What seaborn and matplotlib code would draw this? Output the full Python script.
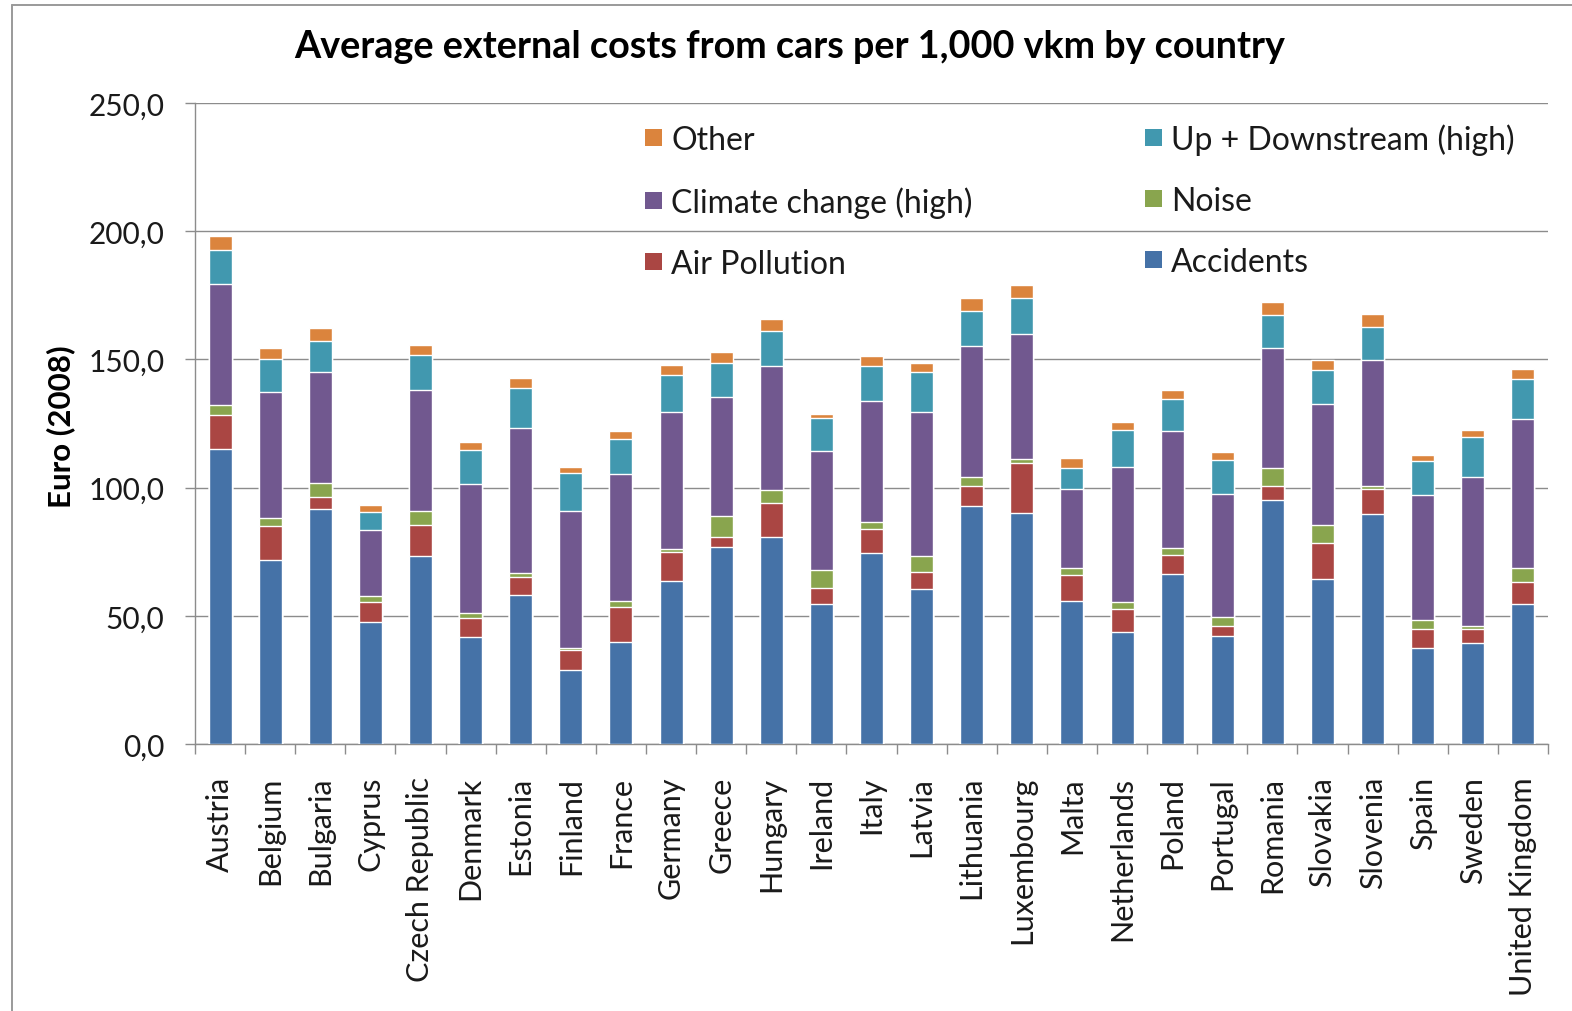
import numpy as np
import pandas as pd
import matplotlib
matplotlib.use("Agg")
import matplotlib.pyplot as plt
from matplotlib.patches import Patch
from matplotlib.lines import Line2D
import seaborn as sns

countries = ["Austria", "Belgium", "Bulgaria", "Cyprus", "Czech Republic", "Denmark",
             "Estonia", "Finland", "France", "Germany", "Greece", "Hungary", "Ireland",
             "Italy", "Latvia", "Lithuania", "Luxembourg", "Malta", "Netherlands",
             "Poland", "Portugal", "Romania", "Slovakia", "Slovenia", "Spain", "Sweden",
             "United Kingdom"]

accidents = [115.1, 71.9, 91.7, 47.4, 73.4, 41.7, 58.3, 28.8, 39.8, 63.5, 76.8, 80.7, 54.6,
             74.4, 60.6, 93.0, 90.2, 55.9, 43.5, 66.4, 42.1, 95.0, 64.5, 89.6, 37.5, 39.5, 54.6]
air_pollution = [13.2, 13.2, 4.7, 7.8, 11.9, 7.3, 7.0, 7.9, 13.6, 11.3, 3.9, 13.2, 6.3,
                 9.4, 6.5, 7.5, 19.3, 9.9, 9.1, 7.3, 4.0, 5.5, 13.8, 10.0, 7.5, 5.2, 8.7]
noise = [3.8, 2.9, 5.2, 2.7, 5.6, 2.0, 1.3, 0.8, 2.5, 1.3, 8.2, 5.0, 7.0,
         2.9, 6.1, 3.6, 1.5, 3.0, 2.6, 2.7, 3.3, 7.3, 7.0, 1.2, 3.3, 1.3, 5.5]
climate_change = [47.4, 49.1, 43.3, 25.5, 47.3, 50.5, 56.6, 53.4, 49.3, 53.2, 46.6, 48.5, 46.5,
                  47.1, 56.1, 51.0, 49.0, 30.8, 52.9, 45.7, 48.1, 46.6, 47.3, 48.9, 48.7, 58.1, 58.1]
up_downstream = [13.1, 13.0, 12.2, 7.0, 13.5, 13.2, 15.6, 14.9, 13.8, 14.8, 13.0, 13.5, 12.9,
                 13.6, 15.7, 13.7, 13.8, 8.2, 14.5, 12.5, 13.3, 12.8, 13.1, 12.9, 13.2, 15.6, 15.6]
other = [5.7, 4.3, 5.1, 2.9, 3.9, 3.0, 4.0, 2.4, 3.1, 3.7, 4.2, 5.0, 1.6,
         4.0, 3.7, 5.0, 5.1, 3.6, 3.0, 3.6, 3.2, 5.3, 4.1, 5.0, 2.5, 2.9, 3.6]

series_names = ["Accidents", "Air Pollution", "Noise", "Climate change (high)",
                "Up + Downstream (high)", "Other"]
series_colors = ["#4572A7", "#AA4643", "#89A54E", "#71588F", "#4198AF", "#DB843D"]
y_ticks = [0, 50, 100, 150, 200, 250]
y_tick_labels = ["0,0", "50,0", "100,0", "150,0", "200,0", "250,0"]

df = pd.DataFrame({
    "country": countries,
    "Accidents": accidents,
    "Air Pollution": air_pollution,
    "Noise": noise,
    "Climate change (high)": climate_change,
    "Up + Downstream (high)": up_downstream,
    "Other": other,
})
# cumulative heights for stacking: the tallest layer is drawn first
cum = df[series_names].cumsum(axis=1)
cum["country"] = df["country"]

sns.set_theme(style="white")
plt.rcParams["font.family"] = ["Lato", "DejaVu Sans"]
TXT = "#1a1a1a"
GRID = "#8c8c8c"

W, H = 1572, 1012
fig = plt.figure(figsize=(W / 100, H / 100), dpi=100)
fig.patch.set_facecolor("white")

# outer chart frame (left and top edges)
frame_kw = dict(transform=fig.transFigure, color="#9a9a9a", linewidth=1.4)
fig.lines.append(Line2D([12 / W, 12 / W], [0, 1 - 5.5 / H], **frame_kw))
fig.lines.append(Line2D([12 / W, 1], [1 - 5.5 / H, 1 - 5.5 / H], **frame_kw))

ax_l, ax_r, ax_t, ax_b = 195, 1548, 104, 745
ax = fig.add_axes([ax_l / W, 1 - ax_b / H, (ax_r - ax_l) / W, (ax_b - ax_t) / H])

for name, color in reversed(list(zip(series_names, series_colors))):
    sns.barplot(data=cum, x="country", y=name, color=color, saturation=1,
                width=0.46, errorbar=None, ax=ax, zorder=3)

n = len(countries)
ax.set_xlim(-0.5, n - 0.5)
ax.set_ylim(0, 250)
ax.set_yticks(y_ticks)
ax.set_yticklabels(y_tick_labels)
ax.set_xlabel("")
ax.set_ylabel("")
ax.yaxis.grid(True, color=GRID, linewidth=1.0)
ax.xaxis.grid(False)
ax.set_axisbelow(True)

for s in ["top", "right"]:
    ax.spines[s].set_visible(False)
for s in ["left", "bottom"]:
    ax.spines[s].set_color(GRID)
    ax.spines[s].set_linewidth(1.0)

ax.set_xticks(np.arange(n))
ax.set_xticklabels(countries, rotation=90, ha="center", va="top")
ax.set_xticks(np.arange(-0.5, n, 1), minor=True)
ax.tick_params(axis="x", which="major", length=0, pad=23, labelsize=22, labelcolor=TXT)
ax.tick_params(axis="x", which="minor", length=7, width=1.0, color=GRID, direction="out",
               bottom=True)
ax.tick_params(axis="y", which="major", length=7, width=1.0, color=GRID, direction="out",
               left=True, pad=15, labelsize=21.5, labelcolor=TXT)

handles = [Patch(facecolor=c, edgecolor="none") for c in series_colors]
order = [5, 3, 1, 4, 2, 0]
leg = ax.legend([handles[i] for i in order], [series_names[i] for i in order],
                ncol=2, loc="upper left", bbox_to_anchor=(645 / W, 1 - 124 / H),
                bbox_transform=fig.transFigure, frameon=False, fontsize=23,
                handlelength=0.52, handleheight=0.45, handletextpad=0.3,
                labelspacing=0.98, columnspacing=5.4, borderpad=0, borderaxespad=0)
for t in leg.get_texts():
    t.set_color(TXT)

fig.text(790 / W, 1 - 47 / H, "Average external costs from cars per 1,000 vkm by country",
         ha="center", va="center", fontsize=27.2, fontweight="bold", color="#000000")
fig.text(61 / W, 1 - 427 / H, "Euro (2008)", rotation=90, ha="center", va="center",
         fontsize=22.5, fontweight="bold", color="#000000")

fig.savefig("out.png", dpi=100)
